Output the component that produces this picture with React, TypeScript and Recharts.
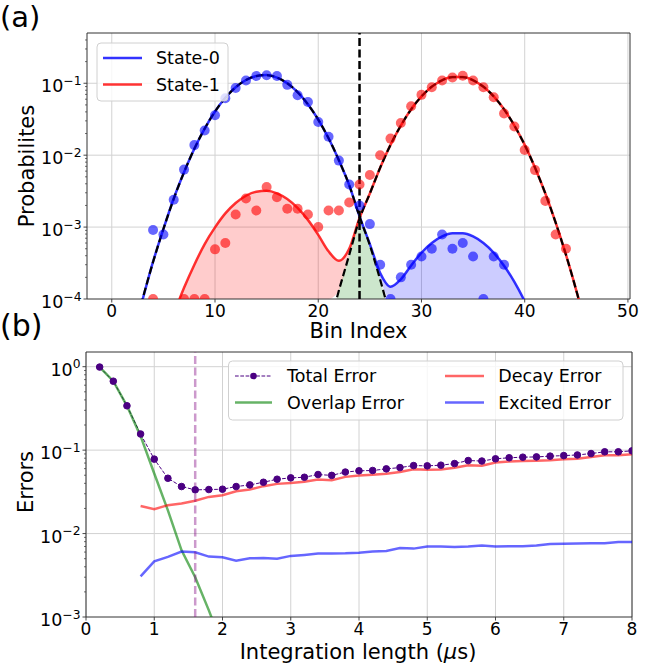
import React from 'react'
import {
  ComposedChart,
  Line,
  Area,
  Scatter,
  XAxis,
  YAxis,
  CartesianGrid,
  ReferenceLine,
  ReferenceArea,
} from 'recharts'

const FONT = '"DejaVu Sans", Verdana, sans-serif'

// ---- (a) readout histogram ----
const binIndex = [
  4, 5, 6, 7, 8, 9, 10, 11, 12, 13, 14, 15, 16, 17, 18, 19, 20, 21, 22, 23, 24,
  25, 26, 27, 28, 29, 30, 31, 32, 33, 34, 35, 36, 37, 38, 39, 40, 41, 42, 43, 44,
]
const state0Prob = [
  9.1e-4, 7.9e-4, 2.4e-3, 6.3e-3, 0.0138, 0.022, 0.036, 0.062, 0.086, 0.109, 0.126,
  0.129, 0.126, 0.095, 0.068, 0.055, 0.029, 0.018, 0.0084, 0.0039, 0.002, 0.0011,
  3.0e-4, 1.0e-4, 2.0e-4, 3.0e-4, 3.9e-4, 5.0e-4, 7.9e-4, 5.0e-4, 6.0e-4, 3.9e-4,
  1.0e-4, 3.9e-4, 3.0e-4, null, null, null, null, null, null,
]
const state1Prob = [
  1.0e-4, null, null, 1.0e-4, 1.0e-4, 1.0e-4, 4.9e-4, 6.0e-4, 1.5e-3, 2.5e-3, 1.7e-3,
  3.6e-3, 2.6e-3, 1.8e-3, 1.8e-3, 1.5e-3, 1.0e-3, 1.7e-3, 1.7e-3, 2.2e-3, 3.9e-3,
  5.3e-3, 0.01, 0.017, 0.028, 0.048, 0.069, 0.088, 0.109, 0.12, 0.127, 0.109, 0.088,
  0.064, 0.038, 0.025, 0.0118, 0.0062, 0.0023, 7.9e-4, 5.0e-4,
]

// fitted curves, read at every bin from 2 to 47
const fitX = [
  2, 3, 4, 5, 6, 7, 8, 9, 10, 11, 12, 13, 14, 15, 16, 17, 18, 19, 20, 21, 22, 23, 24,
  25, 26, 27, 28, 29, 30, 31, 32, 33, 34, 35, 36, 37, 38, 39, 40, 41, 42, 43, 44, 45,
  46, 47,
]
const state0Fit = [
  2.9e-5, 1.0e-4, 3.3e-4, 9.4e-4, 2.5e-3, 5.8e-3, 0.0123, 0.0234, 0.0404, 0.0628,
  0.0879, 0.111, 0.126, 0.13, 0.12, 0.1, 0.0752, 0.051, 0.0312, 0.0172, 8.5e-3,
  3.83e-3, 1.41e-3, 5.8e-4, 2.3e-4, 1.48e-4, 1.88e-4, 2.93e-4, 4.4e-4, 6.0e-4, 7.4e-4,
  8.2e-4, 8.2e-4, 7.4e-4, 6.0e-4, 4.4e-4, 2.9e-4, 1.73e-4, 9.3e-5, 4.5e-5, 2.0e-5,
  null, null, null, null, null,
]
const state1Fit = [
  null, null, null, 2.3e-5, 6.1e-5, 1.43e-4, 3.0e-4, 5.8e-4, 9.9e-4, 1.55e-3, 2.16e-3,
  2.73e-3, 3.1e-3, 3.19e-3, 2.95e-3, 2.46e-3, 1.85e-3, 1.26e-3, 7.8e-4, 4.6e-4, 3.4e-4,
  5.0e-4, 1.34e-3, 2.94e-3, 6.7e-3, 0.0139, 0.0258, 0.0434, 0.0656, 0.0896, 0.11,
  0.122, 0.122, 0.11, 0.0896, 0.0656, 0.0434, 0.0258, 0.0139, 6.7e-3, 2.93e-3,
  1.15e-3, 4.1e-4, 1.31e-4, 3.8e-5, null,
]
// main gaussians (black dashed)
const state0Main = [
  2.9e-5, 1.02e-4, 3.27e-4, 9.4e-4, 2.46e-3, 5.8e-3, 0.0123, 0.0234, 0.0404, 0.0628,
  0.0879, 0.111, 0.126, 0.13, 0.12, 0.1, 0.0752, 0.051, 0.0312, 0.0172, 8.5e-3,
  3.83e-3, 1.4e-3, 5.6e-4, 1.85e-4, 5.5e-5, 1.5e-5, null, null, null, null, null, null,
  null, null, null, null, null, null, null, null, null, null, null, null, null,
]
const state1Main = [
  null, null, null, null, null, null, null, null, null, null, null, null, null, null,
  null, null, null, null, null, 3.8e-5, 1.31e-4, 4.1e-4, 1.3e-3, 2.93e-3, 6.7e-3,
  0.0139, 0.0258, 0.0434, 0.0656, 0.0896, 0.11, 0.122, 0.122, 0.11, 0.0896, 0.0656,
  0.0434, 0.0258, 0.0139, 6.7e-3, 2.93e-3, 1.15e-3, 4.1e-4, 1.31e-4, 3.8e-5, null,
]
const THRESHOLD = 24
const FLOOR_A = 1e-4

// ---- (b) error budget vs integration length ----
const integrationLength = [
  0.2, 0.4, 0.6, 0.8, 1.0, 1.2, 1.4, 1.6, 1.8, 2.0, 2.2, 2.4, 2.6, 2.8, 3.0, 3.2, 3.4,
  3.6, 3.8, 4.0, 4.2, 4.4, 4.6, 4.8, 5.0, 5.2, 5.4, 5.6, 5.8, 6.0, 6.2, 6.4, 6.6, 6.8,
  7.0, 7.2, 7.4, 7.6, 7.8, 8.0,
]
const totalError = [
  0.99, 0.67, 0.34, 0.156, 0.078, 0.046, 0.0366, 0.0334, 0.0337, 0.034, 0.0366, 0.0383,
  0.0412, 0.0448, 0.0465, 0.0473, 0.051, 0.0498, 0.0546, 0.0565, 0.057, 0.0596, 0.0618,
  0.0653, 0.0648, 0.066, 0.069, 0.075, 0.074, 0.0787, 0.081, 0.0823, 0.0829, 0.0847,
  0.086, 0.0875, 0.091, 0.0955, 0.0955, 0.098,
]
const overlapError = [
  0.99, 0.67, 0.34, 0.147, 0.0525, 0.019, 6.3e-3, 3.0e-3, 1.2e-3, 4.5e-4, null, null,
  null, null, null, null, null, null, null, null, null, null, null, null, null, null,
  null, null, null, null, null, null, null, null, null, null, null, null, null, null,
]
const decayError = [
  null, null, null, 0.0214, 0.0196, 0.0219, 0.0229, 0.0247, 0.0275, 0.0288, 0.0322,
  0.0337, 0.037, 0.0394, 0.0405, 0.0417, 0.0445, 0.0436, 0.0478, 0.0495, 0.0506, 0.052,
  0.0546, 0.059, 0.058, 0.0585, 0.0614, 0.066, 0.065, 0.0711, 0.0732, 0.074, 0.0746,
  0.0757, 0.0778, 0.079, 0.0825, 0.087, 0.087, 0.089,
]
const excitedError = [
  null, null, null, 3.07e-3, 4.65e-3, 5.25e-3, 6.1e-3, 5.96e-3, 5.3e-3, 5.2e-3, 4.73e-3,
  5.05e-3, 5.1e-3, 5.0e-3, 5.4e-3, 5.55e-3, 5.75e-3, 5.75e-3, 5.8e-3, 5.9e-3, 6.1e-3,
  6.2e-3, 6.7e-3, 6.6e-3, 6.98e-3, 7.0e-3, 6.9e-3, 7.0e-3, 7.2e-3, 7.0e-3, 7.05e-3,
  7.05e-3, 7.2e-3, 7.5e-3, 7.55e-3, 7.6e-3, 7.65e-3, 7.65e-3, 7.9e-3, 7.9e-3,
]
const OPTIMAL_LENGTH = 1.6

const xTicksA = [0, 10, 20, 30, 40, 50]
const xTicksB = [0, 1, 2, 3, 4, 5, 6, 7, 8]
const yTicksA = [
  1e-4, 2e-4, 3e-4, 4e-4, 5e-4, 6e-4, 7e-4, 8e-4, 9e-4,
  1e-3, 2e-3, 3e-3, 4e-3, 5e-3, 6e-3, 7e-3, 8e-3, 9e-3,
  1e-2, 2e-2, 3e-2, 4e-2, 5e-2, 6e-2, 7e-2, 8e-2, 9e-2,
  0.1, 0.2, 0.3, 0.4,
]
const yTicksB = [
  1e-3, 2e-3, 3e-3, 4e-3, 5e-3, 6e-3, 7e-3, 8e-3, 9e-3,
  1e-2, 2e-2, 3e-2, 4e-2, 5e-2, 6e-2, 7e-2, 8e-2, 9e-2,
  0.1, 0.2, 0.3, 0.4, 0.5, 0.6, 0.7, 0.8, 0.9, 1,
]

const fitRows = fitX.map((x, i) => {
  const m0 = state0Main[i]
  const m1 = state1Main[i]
  const overlap = m0 != null && m1 != null ? Math.min(m0, m1) : null
  const floor = overlap != null ? Math.max(overlap, FLOOR_A) : FLOOR_A
  const f0 = state0Fit[i]
  const f1 = state1Fit[i]
  return {
    x,
    fit0: f0,
    fit1: f1,
    main0: m0,
    main1: m1,
    band1: x <= THRESHOLD && f1 != null ? [floor, f1] : null,
    band0: x >= THRESHOLD && f0 != null ? [floor, f0] : null,
    overlap: overlap != null ? [FLOOR_A, overlap] : null,
  }
})

const dots0 = binIndex
  .map((x, i) => ({ x, y: state0Prob[i] }))
  .filter((d) => d.y != null)
const dots1 = binIndex
  .map((x, i) => ({ x, y: state1Prob[i] }))
  .filter((d) => d.y != null)

const errorRows = integrationLength.map((x, i) => ({
  x,
  total: totalError[i],
  overlap: overlapError[i],
  decay: decayError[i],
  excited: excitedError[i],
}))

const AXIS = '#333'
const GRID = '#d2d2d2'

const XTick = ({ x, y, payload }: any) => (
  <g>
    <line x1={x} x2={x} y1={y} y2={y + 3.5} stroke={AXIS} strokeWidth={0.9} />
    <text x={x} y={y + 18} textAnchor="middle" fontSize={17} fontFamily={FONT} fill="#000">
      {payload.value}
    </text>
  </g>
)

const LogTick = ({ x, y, payload }: any) => {
  const v = payload.value as number
  const e = Math.log10(v)
  const exp = Math.round(e)
  if (Math.abs(e - exp) > 1e-6) {
    return <line x1={x - 2} x2={x} y1={y} y2={y} stroke={AXIS} strokeWidth={0.7} />
  }
  return (
    <g>
      <line x1={x - 3.5} x2={x} y1={y} y2={y} stroke={AXIS} strokeWidth={0.9} />
      <text x={x - 5.5} y={y + 9} textAnchor="end" fontSize={17.5} fontFamily={FONT} fill="#000">
        10
        <tspan dy={-7.5} fontSize={12.3}>
          {exp < 0 ? `\u2212${-exp}` : `${exp}`}
        </tspan>
      </text>
    </g>
  )
}

const dot = (color: string) => (p: any) =>
  p.cx == null ? <g /> : <circle cx={p.cx} cy={p.cy} r={5} fill={color} fillOpacity={0.6} />

const App = () => {
  return (
    <div
      style={{
        position: 'absolute',
        left: 0,
        top: 0,
        width: 645,
        height: 667,
        background: '#fff',
        fontFamily: FONT,
      }}
    >
      {/* (a) histogram with fits */}
      <div style={{ position: 'absolute', left: 0, top: 0 }}>
        <ComposedChart
          width={645}
          height={340}
          data={fitRows}
          margin={{ top: 33, right: 15, bottom: 0, left: 0 }}
        >
          <CartesianGrid
            stroke={GRID}
            horizontalValues={[1e-3, 1e-2, 1e-1]}
            verticalValues={xTicksA}
          />
          <XAxis
            type="number"
            dataKey="x"
            domain={[-2.4, 50.2]}
            ticks={xTicksA}
            interval={0}
            allowDataOverflow
            height={41}
            tickSize={0}
            tickMargin={0}
            axisLine={false}
            tickLine={false}
            tick={<XTick />}
          />
          <YAxis
            type="number"
            scale="log"
            domain={[1e-4, 0.5]}
            ticks={yTicksA}
            interval={0}
            allowDataOverflow
            width={87}
            tickSize={0}
            tickMargin={0}
            axisLine={false}
            tickLine={false}
            tick={<LogTick />}
          />
          <Area
            type="monotone"
            dataKey="band1"
            stroke="none"
            fill="#ff0000"
            fillOpacity={0.2}
            isAnimationActive={false}
          />
          <Area
            type="monotone"
            dataKey="band0"
            stroke="none"
            fill="#0000ff"
            fillOpacity={0.2}
            isAnimationActive={false}
          />
          <Area
            type="monotone"
            dataKey="overlap"
            stroke="none"
            fill="#008000"
            fillOpacity={0.2}
            isAnimationActive={false}
          />
          <Line
            type="monotone"
            dataKey="fit0"
            stroke="#0000ff"
            strokeOpacity={0.8}
            strokeWidth={2.5}
            dot={false}
            activeDot={false}
            isAnimationActive={false}
          />
          <Line
            type="monotone"
            dataKey="fit1"
            stroke="#ff0000"
            strokeOpacity={0.8}
            strokeWidth={2.5}
            dot={false}
            activeDot={false}
            isAnimationActive={false}
          />
          <Line
            type="monotone"
            dataKey="main0"
            stroke="#000"
            strokeWidth={2.2}
            strokeDasharray="7.5 3.5"
            dot={false}
            activeDot={false}
            isAnimationActive={false}
          />
          <Line
            type="monotone"
            dataKey="main1"
            stroke="#000"
            strokeWidth={2.2}
            strokeDasharray="7.5 3.5"
            dot={false}
            activeDot={false}
            isAnimationActive={false}
          />
          <Scatter data={dots0} dataKey="y" shape={dot('#0000ff')} isAnimationActive={false} />
          <Scatter data={dots1} dataKey="y" shape={dot('#ff0000')} isAnimationActive={false} />
          <ReferenceLine
            x={THRESHOLD}
            stroke="#000"
            strokeWidth={2.5}
            strokeDasharray="8 3.5"
          />
          <ReferenceArea
            x1={-2.4}
            x2={50.2}
            y1={1e-4}
            y2={0.5}
            fill="none"
            stroke={AXIS}
            strokeWidth={1}
            ifOverflow="visible"
          />
        </ComposedChart>
      </div>

      {/* (b) errors vs integration length */}
      <div style={{ position: 'absolute', left: 0, top: 330 }}>
        <ComposedChart
          width={645}
          height={337}
          data={errorRows}
          margin={{ top: 22, right: 13, bottom: 0, left: 0 }}
        >
          <CartesianGrid
            stroke={GRID}
            horizontalValues={[1e-2, 1e-1, 1]}
            verticalValues={xTicksB}
          />
          <XAxis
            type="number"
            dataKey="x"
            domain={[0, 8]}
            ticks={xTicksB}
            interval={0}
            allowDataOverflow
            height={50}
            tickSize={0}
            tickMargin={0}
            axisLine={false}
            tickLine={false}
            tick={<XTick />}
          />
          <YAxis
            type="number"
            scale="log"
            domain={[1e-3, 1.5]}
            ticks={yTicksB}
            interval={0}
            allowDataOverflow
            width={86}
            tickSize={0}
            tickMargin={0}
            axisLine={false}
            tickLine={false}
            tick={<LogTick />}
          />
          <Line
            type="linear"
            dataKey="total"
            stroke="#4b0082"
            strokeWidth={1}
            strokeDasharray="3.7 1.6"
            dot={{ r: 3.3, fill: '#4b0082', stroke: '#4b0082', strokeWidth: 1, strokeDasharray: '' }}
            activeDot={false}
            isAnimationActive={false}
          />
          <Line
            type="linear"
            dataKey="overlap"
            stroke="#008000"
            strokeOpacity={0.6}
            strokeWidth={2.5}
            dot={false}
            activeDot={false}
            isAnimationActive={false}
          />
          <Line
            type="linear"
            dataKey="decay"
            stroke="#ff0000"
            strokeOpacity={0.6}
            strokeWidth={2.5}
            dot={false}
            activeDot={false}
            isAnimationActive={false}
          />
          <Line
            type="linear"
            dataKey="excited"
            stroke="#0000ff"
            strokeOpacity={0.6}
            strokeWidth={2.5}
            dot={false}
            activeDot={false}
            isAnimationActive={false}
          />
          <ReferenceLine
            x={OPTIMAL_LENGTH}
            stroke="#800080"
            strokeOpacity={0.4}
            strokeWidth={2.5}
            strokeDasharray="8 3.5"
          />
          <ReferenceArea
            x1={0}
            x2={8}
            y1={1e-3}
            y2={1.5}
            fill="none"
            stroke={AXIS}
            strokeWidth={1}
            ifOverflow="visible"
          />
        </ComposedChart>
      </div>

      {/* labels and legends */}
      <svg
        width={645}
        height={667}
        style={{ position: 'absolute', left: 0, top: 0, pointerEvents: 'none' }}
        fontFamily={FONT}
      >
        <text x={0} y={27} fontSize={29}>(a)</text>
        <text x={0} y={336} fontSize={30}>(b)</text>

        <text
          x={26.5}
          y={166}
          fontSize={21}
          textAnchor="middle"
          dominantBaseline="central"
          transform="rotate(-90 26.5 166)"
        >
          Probabilites
        </text>
        <text x={358.5} y={338} fontSize={21} textAnchor="middle">Bin Index</text>

        <text
          x={25.5}
          y={482}
          fontSize={21}
          textAnchor="middle"
          dominantBaseline="central"
          transform="rotate(-90 25.5 482)"
        >
          Errors
        </text>
        <text x={358} y={658.5} fontSize={21} textAnchor="middle">
          Integration length (<tspan fontStyle="italic">μ</tspan>s)
        </text>

        {/* legend (a) */}
        <rect x={97} y={43} width={131} height={58} rx={4} fill="#fff" fillOpacity={0.8} stroke="#d0d0d0" />
        <line x1={103} x2={142} y1={58} y2={58} stroke="#0000ff" strokeOpacity={0.8} strokeWidth={2.5} />
        <text x={156} y={64.3} fontSize={17.5}>State-0</text>
        <line x1={103} x2={142} y1={84.5} y2={84.5} stroke="#ff0000" strokeOpacity={0.8} strokeWidth={2.5} />
        <text x={156} y={91} fontSize={17.5}>State-1</text>

        {/* legend (b) */}
        <rect x={228.5} y={361} width={394.5} height={59} rx={4} fill="#fff" fillOpacity={0.8} stroke="#d0d0d0" />
        <line x1={235} x2={272} y1={376} y2={376} stroke="#4b0082" strokeWidth={1} strokeDasharray="3.7 1.6" />
        <circle cx={253.5} cy={376} r={3.3} fill="#4b0082" />
        <text x={287} y={382.3} fontSize={17.5}>Total Error</text>
        <line x1={235} x2={272} y1={402.5} y2={402.5} stroke="#008000" strokeOpacity={0.6} strokeWidth={2.5} />
        <text x={287} y={409.3} fontSize={17.5}>Overlap Error</text>
        <line x1={445} x2={484} y1={376} y2={376} stroke="#ff0000" strokeOpacity={0.6} strokeWidth={2.5} />
        <text x={498.3} y={382.3} fontSize={17.5}>Decay Error</text>
        <line x1={445} x2={484} y1={402.5} y2={402.5} stroke="#0000ff" strokeOpacity={0.6} strokeWidth={2.5} />
        <text x={498.3} y={409.3} fontSize={17.5}>Excited Error</text>
      </svg>
    </div>
  )
}

export default App
